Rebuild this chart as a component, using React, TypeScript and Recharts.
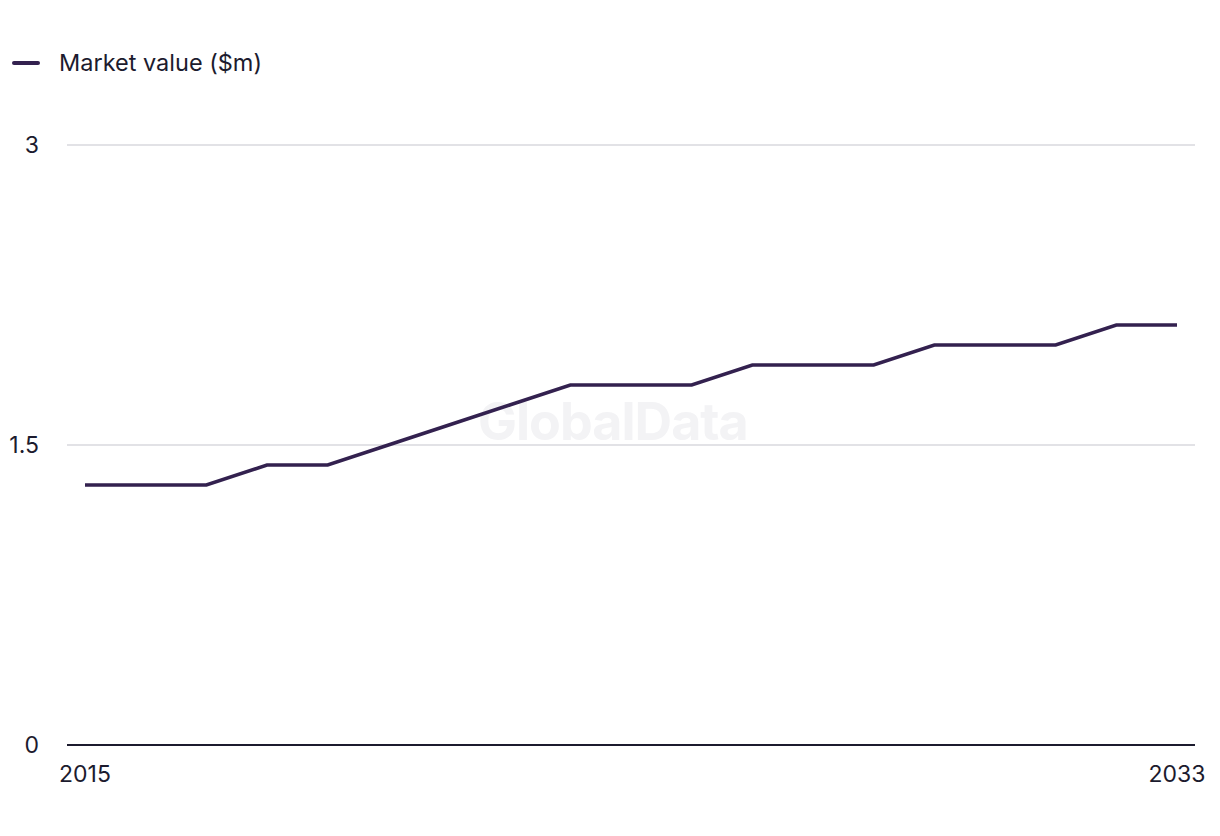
import React from 'react';
import { LineChart, Line, XAxis, YAxis, CartesianGrid } from 'recharts';

const years = [2015, 2016, 2017, 2018, 2019, 2020, 2021, 2022, 2023, 2024, 2025, 2026, 2027, 2028, 2029, 2030, 2031, 2032, 2033];
const marketValue = [1.3, 1.3, 1.3, 1.4, 1.4, 1.5, 1.6, 1.7, 1.8, 1.8, 1.8, 1.9, 1.9, 1.9, 2.0, 2.0, 2.0, 2.1, 2.1];
const xTicks = [2015, 2033];
const yTicks = [0, 1.5, 3];

const data = years.map((year, i) => ({ year, value: marketValue[i] }));

const FONT = 'Inter, "Noto Sans", sans-serif';
const TEXT = '#1c1b2e';
const LINE = '#33214f';

export default function App() {
  return (
    <div style={{ position: 'relative', width: 1204, height: 810, fontFamily: FONT }}>
      {/* legend */}
      <div style={{ position: 'absolute', left: 4, top: 40, display: 'flex', alignItems: 'center', color: TEXT, fontSize: 23.5 }}>
        <span style={{ display: 'inline-block', width: 28, height: 4, borderRadius: 2, background: LINE, marginRight: 19 }} />
        <span>Market value ($m)</span>
      </div>
      {/* watermark */}
      <div style={{ position: 'absolute', left: 470, top: 382, fontSize: 52, fontWeight: 700, color: '#f3f3f5', letterSpacing: -1 }}>
        GlobalData
      </div>
      <div style={{ position: 'absolute', left: 0, top: 0 }}>
        <LineChart width={1204} height={810} data={data} margin={{ top: 137, right: 17, left: 0, bottom: 43 }}>
          <CartesianGrid vertical={false} stroke="#d9d9de" strokeWidth={1.5} />
          <XAxis
            dataKey="year"
            type="number"
            domain={[2015, 2033]}
            ticks={xTicks}
            padding={{ left: 18, right: 18 }}
            tickSize={0}
            tickMargin={21}
            axisLine={{ stroke: TEXT, strokeWidth: 2 }}
            tick={{ fontSize: 23, fill: TEXT, fontFamily: FONT }}
            height={30}
          />
          <YAxis
            domain={[0, 3]}
            ticks={yTicks}
            width={59}
            axisLine={false}
            tickLine={false}
            tickSize={0}
            tickMargin={28}
            tick={{ fontSize: 23, fill: TEXT, fontFamily: FONT }}
          />
          <Line
            type="linear"
            dataKey="value"
            stroke={LINE}
            strokeWidth={3.5}
            dot={false}
            isAnimationActive={false}
          />
        </LineChart>
      </div>
    </div>
  );
}
